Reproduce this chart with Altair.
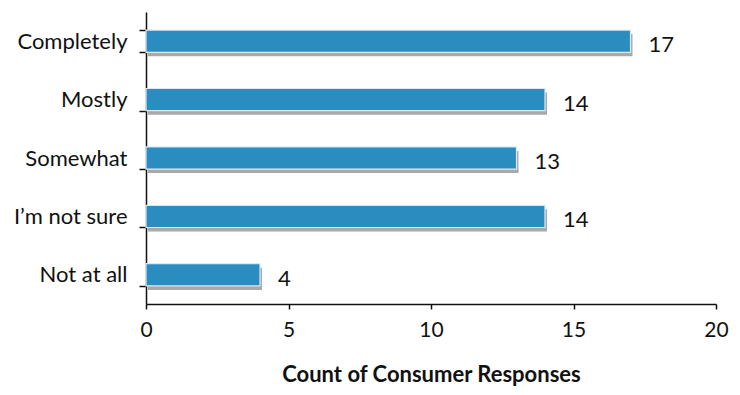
import altair as alt
import pandas as pd

categories = ["Completely", "Mostly", "Somewhat", "I\u2019m not sure", "Not at all"]
counts = [17, 14, 13, 14, 4]

df = pd.DataFrame({"cat": categories, "count": counts})

FONT = "Lato"

y_enc = alt.Y("cat:N", sort=categories, title=None,
              scale=alt.Scale(paddingInner=0.62, paddingOuter=0.31),
              axis=alt.Axis(labelFont=FONT, labelFontSize=22, labelColor="#111",
                            labelPadding=12, tickBand="extent", tickSize=7,
                            tickColor="#111", domainColor="#111", domainWidth=1.5,
                            tickWidth=1.5, grid=False))
x_enc = alt.X("count:Q", title="Count of Consumer Responses",
              scale=alt.Scale(domain=[0, 20], nice=False),
              axis=alt.Axis(values=[0, 5, 10, 15, 20], labelFont=FONT, labelFontSize=21,
                            labelFlush=False,
                            labelColor="#111", labelPadding=10, tickSize=5,
                            tickColor="#111", domainColor="#111", domainWidth=1.5,
                            tickWidth=1.5, grid=False, titleFont=FONT,
                            titleFontSize=22, titleFontWeight="bold", titleColor="#111",
                            titlePadding=24))

base = alt.Chart(df)

shadow = base.mark_bar(color="#8c8c8c", opacity=0.75, xOffset=2, yOffset=4).encode(
    x=x_enc, y=y_enc)
bars = base.mark_bar(color="#2b8cbf", stroke="#dbe9f2", strokeWidth=1.2).encode(
    x="count:Q", y=alt.Y("cat:N", sort=categories))
labels = base.mark_text(align="left", baseline="middle", dx=18, dy=4,
                        font=FONT, fontSize=22, color="#111").encode(
    x="count:Q", y=alt.Y("cat:N", sort=categories), text="count:Q")

chart = alt.layer(shadow, bars, labels).properties(
    width=570, height=292,
    background="white",
    autosize=alt.AutoSizeParams(type="none"),
    padding={"left": 138, "top": 4, "right": 16, "bottom": 83},
).configure_view(stroke=None)

chart.save("out.html", embed_options={"renderer": "svg", "actions": False})
